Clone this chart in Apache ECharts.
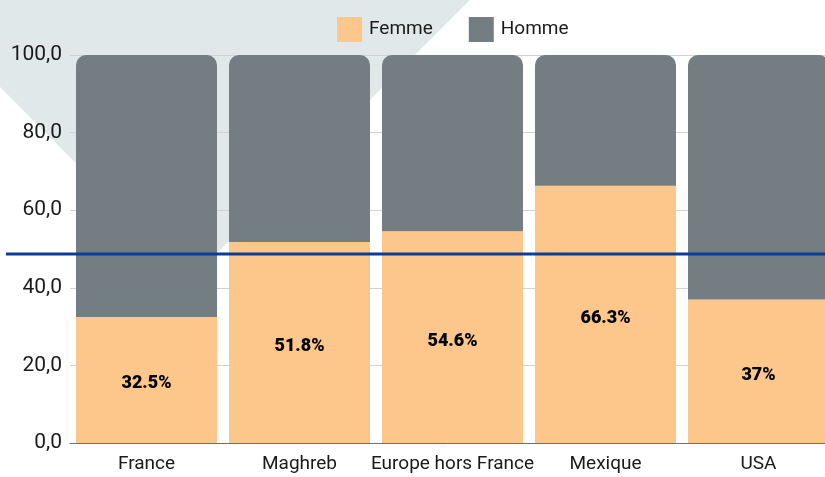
<!DOCTYPE html>
<html>
<head>
<meta charset="utf-8">
<script src="https://cdn.jsdelivr.net/npm/echarts@6/dist/echarts.min.js"></script>
<style>
  html, body { margin: 0; padding: 0; background: #fff; }
  #chart { width: 825px; height: 477px; }
</style>
</head>
<body>
<div id="chart"></div>
<script>
const categories = ['France', 'Maghreb', 'Europe hors France', 'Mexique', 'USA'];
const femme = [32.5, 51.8, 54.6, 66.3, 37];
const homme = [67.5, 48.2, 45.4, 33.7, 63];
const femmeLabels = ['32.5%', '51.8%', '54.6%', '66.3%', '37%'];
const yTicks = [0, 20, 40, 60, 80, 100];
const refLine = 48.7;

const chart = echarts.init(document.getElementById('chart'));

const option = {
  animation: false,
  textStyle: { fontFamily: 'Roboto, sans-serif' },
  legend: {
    top: 12,
    left: 332,
    itemWidth: 25,
    itemHeight: 25,
    itemGap: 36,
    icon: 'rect',
    textStyle: { fontSize: 19, color: '#1a1a1a', padding: [2, 0, 0, 2] },
    data: ['Femme', 'Homme']
  },
  grid: { left: 70, top: 55, width: 765, height: 388, containLabel: false, outerBoundsMode: 'none' },
  xAxis: {
    type: 'category',
    data: categories,
    axisTick: { show: false },
    axisLine: { show: true, lineStyle: { color: '#6f6f6f', width: 1 } },
    axisLabel: { fontSize: 19, color: '#1a1a1a', margin: 12, interval: 0 }
  },
  yAxis: {
    type: 'value',
    min: yTicks[0],
    max: yTicks[yTicks.length - 1],
    interval: 20,
    axisLine: { show: false },
    axisTick: { show: false },
    splitLine: { lineStyle: { color: '#cfd3d5', width: 1 } },
    axisLabel: {
      fontSize: 21,
      color: '#1a1a1a',
      margin: 8,
      formatter: v => v.toFixed(1).replace('.', ',')
    }
  },
  series: [
    {
      name: 'Femme',
      type: 'bar',
      stack: 'total',
      barWidth: 141,
      data: femme,
      itemStyle: { color: '#FDC68A' },
      label: {
        show: true,
        position: 'inside',
        offset: [0, 4],
        color: '#000',
        fontSize: 18,
        fontWeight: 900,
        formatter: p => femmeLabels[p.dataIndex]
      }
    },
    {
      name: 'Homme',
      type: 'bar',
      stack: 'total',
      barWidth: 141,
      data: homme,
      itemStyle: { color: '#737D82', borderRadius: [10, 10, 0, 0] }
    }
  ]
};

chart.setOption(option);

// background chevron and the reference line, placed through the value axis
const yRef = chart.convertToPixel({ yAxisIndex: 0 }, refLine);
chart.setOption({
  graphic: [
    {
      type: 'polygon',
      z: -10,
      silent: true,
      shape: { points: [[0, 0], [470, 0], [191, 279], [0, 87]] },
      style: { fill: '#E1E8EA' }
    },
    {
      type: 'line',
      z: 100,
      silent: true,
      shape: { x1: 6, y1: yRef, x2: 825, y2: yRef },
      style: { stroke: '#0A3D99', lineWidth: 3 }
    }
  ]
});
</script>
</body>
</html>
